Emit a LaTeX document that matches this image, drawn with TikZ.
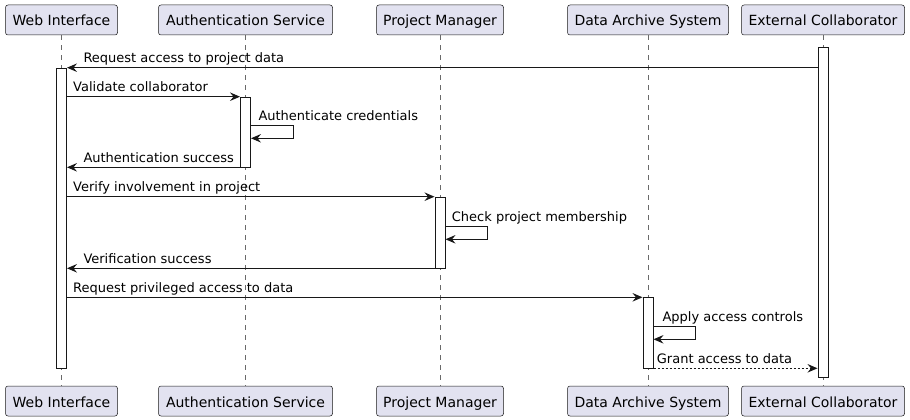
\documentclass[tikz,border=0pt]{standalone}
\usepackage{fontspec}
\setmainfont{DejaVu Sans}
\usetikzlibrary{arrows.meta}
\definecolor{partfill}{HTML}{E2E2F0}
\definecolor{ink}{HTML}{181818}
\tikzset{
 part/.style={draw=ink, line width=0.5pt, fill=partfill, rounded corners=2.5pt, minimum height=30pt, inner sep=0pt, text height=12pt, text depth=0pt, font=\fontsize{14}{16}\selectfont},
 act/.style={draw=ink, line width=1pt, fill=white, minimum width=10pt, inner sep=0pt, anchor=north},
 life/.style={draw=ink!65, line width=0.6pt, dash pattern=on 5pt off 5pt},
 msg/.style={draw=ink, line width=1pt, -{Stealth[length=10pt,width=8.5pt,inset=3.5pt]}},
 reply/.style={msg, dash pattern=on 2pt off 2pt},
 lbl/.style={anchor=base west, inner sep=0pt, font=\fontsize{13}{15}\selectfont, text=black},
}
\begin{document}
\begin{tikzpicture}[x=1pt,y=-1pt]
\useasboundingbox (0,0) rectangle (910,420);
% participants top
\node[part, minimum width=112pt] (wT) at (61.5,20) {Web Interface};
\node[part, minimum width=174pt] (aT) at (245.5,20) {Authentication Service};
\node[part, minimum width=127pt] (pT) at (440,20) {Project Manager};
\node[part, minimum width=161pt] (dT) at (648,20) {Data Archive System};
\node[part, minimum width=163pt] (eT) at (823,20) {External Collaborator};
% participants bottom
\node[part, minimum width=112pt] (wB) at (61.5,401) {Web Interface};
\node[part, minimum width=174pt] (aB) at (245.5,401) {Authentication Service};
\node[part, minimum width=127pt] (pB) at (440,401) {Project Manager};
\node[part, minimum width=161pt] (dB) at (648,401) {Data Archive System};
\node[part, minimum width=163pt] (eB) at (823,401) {External Collaborator};
% lifelines
\draw[life] (wT.south) -- (wB.north);
\draw[life] (aT.south) -- (aB.north);
\draw[life] (pT.south) -- (pB.north);
\draw[life] (dT.south) -- (dB.north);
\draw[life] (eT.south) -- (eB.north);
% activations
\node[act, minimum height=330.3pt] (eA) at (823,46.7) {};
\node[act, minimum height=300.6pt] (wA) at (61.5,67.7) {};
\node[act, minimum height=70.6pt] (aA) at (245.5,96.7) {};
\node[act, minimum height=71.6pt] (pA) at (440,196.7) {};
\node[act, minimum height=71pt] (dA) at (648,297.3) {};
% message levels
\coordinate (m1) at (0,67.7);
\coordinate (m2) at (0,96.7);
\coordinate (m3a) at (0,125.7);
\coordinate (m3b) at (0,138.3);
\coordinate (m4) at (0,167.3);
\coordinate (m5) at (0,196.7);
\coordinate (m6a) at (0,226.7);
\coordinate (m6b) at (0,239.3);
\coordinate (m7) at (0,268.3);
\coordinate (m8) at (0,297.3);
\coordinate (m9a) at (0,326.7);
\coordinate (m9b) at (0,339.3);
\coordinate (m10) at (0,368.3);
% messages
\draw[msg] (eA.west |- m1) -- (wA.east |- m1);
\node[lbl] (l1) at (83.3,62.7) {Request access to project data};
\draw[msg] (wA.east |- m2) -- (aA.west |- m2);
\node[lbl] (l2) at (73,91.7) {Validate collaborator};
\draw[msg] (aA.east |- m3a) -- ++(42.7,0) |- (aA.east |- m3b);
\node[lbl] (l3) at (258.3,120.7) {Authenticate credentials};
\draw[msg] (aA.west |- m4) -- (wA.east |- m4);
\node[lbl] (l4) at (83.3,162.3) {Authentication success};
\draw[msg] (wA.east |- m5) -- (pA.west |- m5);
\node[lbl] (l5) at (73,191.7) {Verify involvement in project};
\draw[msg] (pA.east |- m6a) -- ++(41.7,0) |- (pA.east |- m6b);
\node[lbl] (l6) at (451.7,221.7) {Check project membership};
\draw[msg] (pA.west |- m7) -- (wA.east |- m7);
\node[lbl] (l7) at (83.3,263.3) {Verification success};
\draw[msg] (wA.east |- m8) -- (dA.west |- m8);
\node[lbl] (l8) at (73,292.3) {Request privileged access to data};
\draw[msg] (dA.east |- m9a) -- ++(42.4,0) |- (dA.east |- m9b);
\node[lbl] (l9) at (662.3,321.7) {Apply access controls};
\draw[reply] (dA.east |- m10) -- (eA.west |- m10);
\node[lbl] (l10) at (656.7,363.3) {Grant access to data};
\end{tikzpicture}
\end{document}
